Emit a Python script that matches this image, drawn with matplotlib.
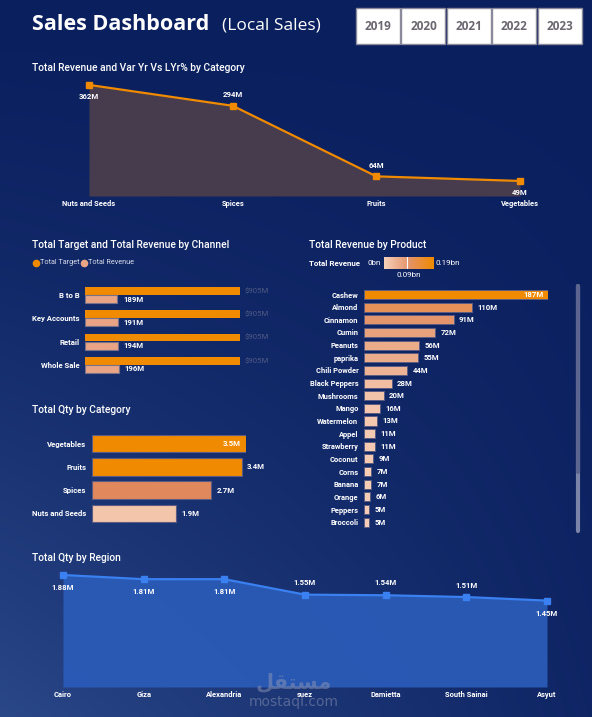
import numpy as np
import matplotlib
matplotlib.use('Agg')
import matplotlib.pyplot as plt
from matplotlib.colors import LinearSegmentedColormap, to_rgb
from matplotlib.patches import Rectangle
from matplotlib.lines import Line2D

W, H = 592, 717

# data
years = ['2019', '2020', '2021', '2022', '2023']

cat_names = ['Nuts and Seeds', 'Spices', 'Fruits', 'Vegetables']
cat_revenue = [362, 294, 64, 49]

channels = ['B to B', 'Key Accounts', 'Retail', 'Whole Sale']
channel_target = [905, 905, 905, 905]
channel_revenue = [189, 191, 194, 196]

qty_cats = ['Vegetables', 'Fruits', 'Spices', 'Nuts and Seeds']
qty_values = [3.5, 3.4, 2.7, 1.9]

products = ['Cashew', 'Almond', 'Cinnamon', 'Cumin', 'Peanuts', 'paprika',
            'Chili Powder', 'Black Peppers', 'Mushrooms', 'Mango', 'Watermelon',
            'Appel', 'Strawberry', 'Coconut', 'Corns', 'Banana', 'Orange',
            'Peppers', 'Broccoli']
product_revenue = [187, 110, 91, 72, 56, 55, 44, 28, 20, 16, 13, 11, 11, 9, 7, 7, 6, 5, 5]

regions = ['Cairo', 'Giza', 'Alexandria', 'suez', 'Damietta', 'South Sainai', 'Asyut']
region_qty = [1.88, 1.81, 1.81, 1.55, 1.54, 1.51, 1.45]

ORANGE = '#f08a00'
WHITE = 'white'
FONT = 'Roboto'

plt.rcParams['font.family'] = [FONT, 'DejaVu Sans']

fig = plt.figure(figsize=(W / 100, H / 100), dpi=100)


# helpers working in pixel coordinates (y from the top)
def axes_px(x0, y0, x1, y1):
    return fig.add_axes([x0 / W, 1 - y1 / H, (x1 - x0) / W, (y1 - y0) / H])


def ftext(x, y, s, **kw):
    kw.setdefault('va', 'center')
    kw.setdefault('color', WHITE)
    return fig.text(x / W, 1 - y / H, s, **kw)


def clean(ax):
    for s in ax.spines.values():
        s.set_visible(False)
    ax.patch.set_alpha(0)


# background gradient
bg = fig.add_axes([0, 0, 1, 1])
yy, xx = np.mgrid[0:H, 0:W]
t = np.clip((yy / H) ** 1.4 * (1 - 0.85 * xx / W), 0, 1)[..., None]
dark = np.array(to_rgb('#0a1f5e'))
light = np.array(to_rgb('#2a4788'))
bg.imshow(dark + t * (light - dark), aspect='auto', extent=[0, W, H, 0])
bg.axis('off')

# header
ftext(32, 24, 'Sales Dashboard', fontsize=15.5, fontweight='bold', family='Open Sans')
ftext(222, 25, '(Local Sales)', fontsize=12.5, family='Open Sans')
bw = 45.4
for i, yr in enumerate(years):
    x0 = 356 + i * bw
    fig.patches.append(Rectangle((x0 / W, 1 - 44 / H), (bw - 1.5) / W, 36 / H,
                                 transform=fig.transFigure, facecolor='white',
                                 edgecolor='#8a8a9a', lw=1))
    ftext(x0 + bw / 2 - 0.7, 26, yr, fontsize=8.5, fontweight='bold',
          color='#6b6670', ha='center', family='Open Sans')


def title(x, y, s):
    ftext(x, y, s, fontsize=7.4, fontweight='medium')


lab = dict(fontsize=5.6, fontweight='bold', color=WHITE)

# panel 1: revenue by category (area)
title(32, 68, 'Total Revenue and Var Yr Vs LYr% by Category')
ax1 = axes_px(89, 80, 520, 196)
x = np.arange(len(cat_names))
ax1.fill_between(x, cat_revenue, color='#473b4e', lw=0)
ax1.plot(x, cat_revenue, color=ORANGE, lw=1.6, marker='s', ms=4, clip_on=False)
ax1.set_xlim(0, 3)
ax1.set_ylim(0, 378)
pos1 = [-8, 8, 8, -8]
for xi, v, dy in zip(x, cat_revenue, pos1):
    ax1.annotate(f'{v}M', (xi, v), xytext=(0, dy), textcoords='offset points',
                 ha='center', va='center', **lab)
ax1.set_xticks(x, cat_names)
ax1.set_yticks([])
ax1.tick_params(axis='x', length=0, pad=3, labelsize=5.4, labelcolor=WHITE)
for tl in ax1.get_xticklabels():
    tl.set_fontweight('bold')
clean(ax1)

# panel 2: target vs revenue by channel
title(32, 245, 'Total Target and Total Revenue by Channel')
fig.lines.append(Line2D([36 / W], [1 - 263 / H], marker='o', ms=4.5, color=ORANGE,
                        transform=fig.transFigure))
ftext(40, 263, 'Total Target', fontsize=5.2, color='#d8dcea')
fig.lines.append(Line2D([84 / W], [1 - 263 / H], marker='o', ms=4.5, color='#e9a585',
                        transform=fig.transFigure))
ftext(88, 263, 'Total Revenue', fontsize=5.2, color='#d8dcea')

ax2 = axes_px(85, 283.3, 240, 376.5)
y = np.arange(len(channels))
ax2.barh(y - 0.175, channel_target, height=0.34, color=ORANGE, lw=0)
ax2.barh(y + 0.175, channel_revenue, height=0.34, color='#e8a485',
         edgecolor='#77728a', lw=0.8)
ax2.set_xlim(0, 905)
ax2.set_ylim(3.5, -0.5)
for yi, tv, rv in zip(y, channel_target, channel_revenue):
    ax2.annotate(f'${tv}M', (tv, yi - 0.175), xytext=(3, 0), textcoords='offset points',
                 va='center', fontsize=5.6, color='#4e5883', annotation_clip=False)
    ax2.annotate(f'{rv}M', (rv, yi + 0.175), xytext=(4, 0), textcoords='offset points',
                 va='center', **lab)
ax2.set_yticks(y, channels)
ax2.set_xticks([])
ax2.tick_params(axis='y', length=0, pad=4, labelsize=5.6, labelcolor=WHITE)
for tl in ax2.get_yticklabels():
    tl.set_fontweight('bold')
clean(ax2)

# panel 3: qty by category
title(32, 410, 'Total Qty by Category')
ax3 = axes_px(92, 432, 246, 525)
y = np.arange(len(qty_cats))
qty_colors = [ORANGE, ORANGE, '#e1895c', '#f3c5aa']
ax3.barh(y, qty_values, height=0.75, color=qty_colors, edgecolor='#5c5c82', lw=0.8)
ax3.set_xlim(0, 3.5)
ax3.set_ylim(3.5, -0.5)
for i, (yi, v) in enumerate(zip(y, qty_values)):
    if i == 0:
        ax3.annotate(f'{v}M', (v, yi), xytext=(-4, 0), textcoords='offset points',
                     ha='right', va='center', **lab)
    else:
        ax3.annotate(f'{v}M', (v, yi), xytext=(4, 0), textcoords='offset points',
                     va='center', **lab)
ax3.set_yticks(y, qty_cats)
ax3.set_xticks([])
ax3.tick_params(axis='y', length=0, pad=4, labelsize=5.6, labelcolor=WHITE)
for tl in ax3.get_yticklabels():
    tl.set_fontweight('bold')
clean(ax3)

# panel 4: revenue by product
cmap = LinearSegmentedColormap.from_list('rev', ['#f6d0ba', '#e4936a', '#f08a00'])
title(309, 245, 'Total Revenue by Product')
ftext(309, 263, 'Total Revenue', fontsize=5.8, fontweight='bold')
ftext(368, 263, '0bn', fontsize=5.8)
axg = axes_px(384, 257, 433, 269)
axg.imshow(np.linspace(0, 1, 100)[None, :], cmap=cmap, aspect='auto')
axg.axvline(47, color='white', lw=0.8)
axg.axis('off')
ftext(436, 263, '0.19bn', fontsize=5.8)
ftext(409, 275, '0.09bn', fontsize=5.8, ha='center')

ax4 = axes_px(364, 288.2, 548, 528.5)
y = np.arange(len(products))
vmax = max(product_revenue)
ax4.barh(y, product_revenue, height=0.72,
         color=[cmap(v / vmax) for v in product_revenue], edgecolor='#5c5c82', lw=0.7)
ax4.set_xlim(0, vmax)
ax4.set_ylim(len(products) - 0.5, -0.5)
for i, (yi, v) in enumerate(zip(y, product_revenue)):
    if i == 0:
        ax4.annotate(f'{v}M', (v, yi), xytext=(-3, 0), textcoords='offset points',
                     ha='right', va='center', **lab)
    else:
        ax4.annotate(f'{v}M', (v, yi), xytext=(4, 0), textcoords='offset points',
                     va='center', **lab)
ax4.set_yticks(y, products)
ax4.set_xticks([])
ax4.tick_params(axis='y', length=0, pad=4, labelsize=5.4, labelcolor=WHITE)
for tl in ax4.get_yticklabels():
    tl.set_fontweight('bold')
clean(ax4)

# scrollbar
fig.lines.append(Line2D([577.5 / W] * 2, [1 - 286 / H, 1 - 531 / H], color='#7a83a8',
                        lw=3, solid_capstyle='round', transform=fig.transFigure))
fig.lines.append(Line2D([577.5 / W] * 2, [1 - 286 / H, 1 - 472 / H], color='#5c6590',
                        lw=3, solid_capstyle='round', transform=fig.transFigure))

# panel 5: qty by region (area)
title(32, 558, 'Total Qty by Region')
ax5 = axes_px(63, 570, 547, 687)
x = np.arange(len(regions))
ax5.fill_between(x, region_qty, color='#2a5bb7', lw=0, alpha=0.95)
ax5.plot(x, region_qty, color='#3a80f0', lw=1.6, marker='s', ms=4, clip_on=False)
ax5.set_xlim(0, len(regions) - 1)
ax5.set_ylim(0, 1.964)
pos5 = [-9, -9, -9, 9, 9, 8, -9]
for xi, v, dy in zip(x, region_qty, pos5):
    ax5.annotate(f'{v}M', (xi, v), xytext=(0, dy), textcoords='offset points',
                 ha='center', va='center', **lab)
ax5.set_xticks(x, regions)
ax5.set_yticks([])
ax5.tick_params(axis='x', length=0, pad=3, labelsize=5.4, labelcolor=WHITE)
for tl in ax5.get_xticklabels():
    tl.set_fontweight('bold')
clean(ax5)

# watermark
ftext(294, 682, '\ufede\ufed8\ufe98\ufeb4\ufee3', fontsize=15, fontweight='bold',
      color='#8d97b5', alpha=0.5, ha='center', family='DejaVu Sans')
ftext(294, 702, 'mostaql.com', fontsize=10, color='#8d97b5', alpha=0.5, ha='center',
      family='DejaVu Sans')

fig.savefig('out.png', dpi=100)
